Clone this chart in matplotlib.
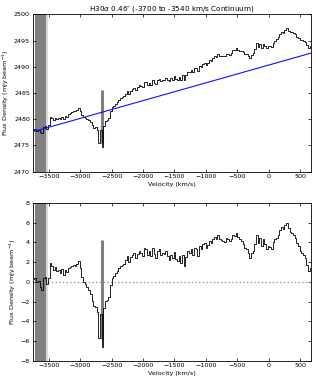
import numpy as np
import matplotlib
matplotlib.use("Agg")
import matplotlib.pyplot as plt

# 通道速度 (km/s)
v_start = -3740.0
dv = 26.7

# 扣除连续谱后的残差 (mJy/beam)
resid = [
    0.3, 0.4, 0.0, 0.1, -0.5, -0.8, 0.4, 0.5, -0.2, 0.4,
    1.9, 1.6, 1.2, 1.5, 1.1, 1.2, 0.9, 1.3, 0.7, 1.2,
    1.0, 1.4, 1.5, 1.6, 1.7, 1.6, 1.8, 2.1, 1.4, 0.5,
    0.0, -0.2, -0.5, -0.85, -1.2, -1.9, -2.5, -2.55, -3.1, -5.7,
    -3.3, -6.6, -2.7, -1.9, -1.8, -1.5, -0.3, 0.4, 0.6, 0.85,
    1.1, 1.4, 1.6, 1.7, 1.8, 2.2, 2.6, 2.0, 2.5, 2.75,
    2.9, 2.4, 2.8, 3.1, 2.9, 2.6, 3.4, 3.3, 2.75, 3.1,
    2.6, 3.4, 2.8, 2.4, 3.1, 3.3, 2.75, 2.9, 2.8, 3.1,
    2.6, 2.25, 2.75, 2.4, 3.0, 2.3, 2.1, 2.6, 1.9, 2.7,
    1.6, 2.5, 3.1, 2.9, 3.3, 2.75, 3.4, 3.3, 2.6, 3.6,
    3.3, 3.8, 3.9, 3.4, 3.7, 4.1, 3.9, 4.3, 4.6, 4.3,
    4.8, 4.3, 4.2, 4.1, 4.0, 4.45, 4.3, 4.1, 4.3, 4.8,
    4.7, 5.0, 4.6, 4.3, 4.1, 3.8, 3.4, 3.3, 2.9, 2.4,
    2.9, 3.1, 3.8, 4.8, 3.9, 4.4, 3.6, 4.3, 3.8, 3.3,
    3.6, 3.5, 3.3, 4.0, 4.3, 4.45, 4.8, 5.3, 5.6, 5.4,
    5.8, 6.0, 5.5, 5.1, 5.0, 4.8, 4.45, 3.9, 3.6, 3.1,
    2.9, 2.75, 2.4, 1.7, 1.05, 1.4,
]

# 连续谱拟合直线的两个端点
cont_vel = [-3755, 673]
cont_flux = [2477.6, 2492.6]

# 连续谱窗口和坏通道
cont_win = [-3720, -3545]
bad_vel = -2660
bad_range = [-5.8, 4.2]

xlim = (-3755, 673)

resid = np.array(resid)
vel = v_start + dv * np.arange(len(resid))
cont = np.interp(vel, cont_vel, cont_flux)
flux = resid + cont
cont_bad = np.interp(bad_vel, cont_vel, cont_flux)

fs = 4.6
plt.rcParams['font.family'] = ['DejaVu Sans']
plt.rcParams['axes.linewidth'] = 0.6

fig = plt.figure(figsize=(3.16, 3.82), dpi=100)
ax1 = fig.add_axes([0.1035, 0.5505, 0.8805, 0.4121])
ax2 = fig.add_axes([0.1035, 0.0558, 0.8805, 0.4128])

for ax in (ax1, ax2):
    ax.axvspan(cont_win[0], cont_win[1], color='0.5', lw=0, zorder=1)
    ax.axvspan(cont_win[1], cont_win[1] + 30, color='0.85', lw=0, zorder=0.9)
    ax.tick_params(direction='in', top=True, right=True, labelsize=fs,
                   length=2.5, width=0.5, pad=2)
    ax.set_xlim(*xlim)
    ax.set_xticks(np.arange(-3500, 501, 500))
    ax.set_xlabel('Velocity (km/s)', fontsize=fs, labelpad=1.5)
    ax.set_ylabel('Flux Density (mJy beam$^{-1}$)', fontsize=fs, labelpad=2)

# 上图：原始谱 + 连续谱
ax1.plot(vel, flux, drawstyle='steps-mid', color='k', lw=0.6, zorder=3)
ax1.plot(cont_vel, cont_flux, color='#1010ff', lw=0.8, zorder=4)
ax1.vlines(bad_vel, bad_range[0] + cont_bad, bad_range[1] + cont_bad,
           color='0.5', lw=2.2, zorder=2)
ax1.set_ylim(2470, 2500)
ax1.set_yticks(np.arange(2470, 2501, 5))
ax1.set_title("H30$\\alpha$ 0.46\u2033 (-3700 to -3540 km/s Continuum)",
              fontsize=5.2, pad=3)

# 下图：扣除连续谱
ax2.axhline(0, color='0.6', lw=1.0, ls=':', zorder=2)
ax2.plot(vel, resid, drawstyle='steps-mid', color='k', lw=0.6, zorder=3)
ax2.vlines(bad_vel, bad_range[0], bad_range[1], color='0.5', lw=2.2, zorder=2)
ax2.set_ylim(-8, 8)
ax2.set_yticks(np.arange(-8, 9, 2))

fig.savefig('out.png', dpi=100)
